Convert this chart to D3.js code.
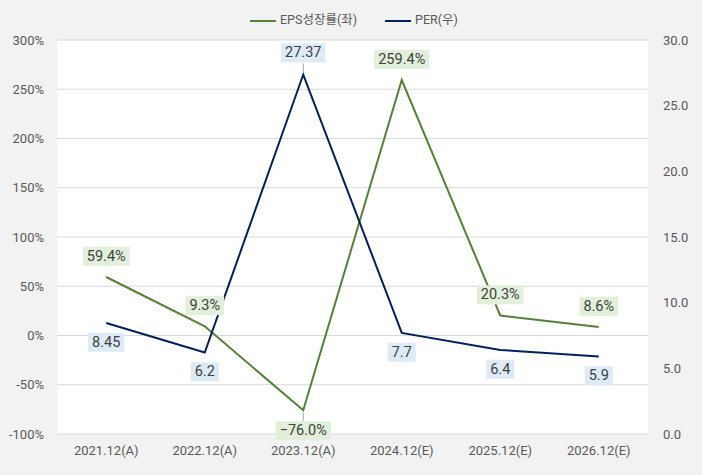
<html>
<head>
<meta charset="utf-8">
<script src="https://d3js.org/d3.v7.min.js"></script>
<style>
body{margin:0;background:#f2f2f2;}
text{font-family:Roboto,"Noto Sans CJK KR",sans-serif;}
</style>
</head>
<body>
<svg width=702 height=475></svg>
<script>
const categories=["2021.12(A)","2022.12(A)","2023.12(A)","2024.12(E)","2025.12(E)","2026.12(E)"]
const epsGrowth=[59.4,9.3,-76.0,259.4,20.3,8.6]
const per=[8.45,6.2,27.37,7.7,6.4,5.9]
const leftTicks=[-100,-50,0,50,100,150,200,250,300]
const rightTicks=[0,5,10,15,20,25,30]

const svg=d3.select("svg")
const margin={top:40, right:54, bottom:41, left:57}
const width=+svg.attr("width")-margin.left-margin.right
const height=+svg.attr("height")-margin.top-margin.bottom

const g=svg.append("g").attr("transform","translate("+margin.left+","+margin.top+")")
g.append("rect").attr("width",width).attr("height",height).attr("fill","#fff")

const xs=d3.scaleBand().domain(categories).range([0,width])
const yl=d3.scaleLinear().domain([-100,300]).range([height,0])
const yr=d3.scaleLinear().domain([0,30]).range([height,0])
const cx=d=>xs(d)+xs.bandwidth()/2

g.selectAll(".grid").data(leftTicks).enter().append("line")
.attr("x1",0).attr("x2",width).attr("y1",d=>yl(d)).attr("y2",d=>yl(d))
.attr("stroke","#d9d9d9").attr("stroke-width",1)

const leftAxis=g.append("g").call(d3.axisLeft(yl).tickValues(leftTicks).tickFormat(d=>d+"%").tickSize(0).tickPadding(13))
const rightAxis=g.append("g").attr("transform","translate("+width+",0)").call(d3.axisRight(yr).tickValues(rightTicks).tickFormat(d3.format(".1f")).tickSize(0).tickPadding(15))
const xAxis=g.append("g").attr("transform","translate(0,"+height+")").call(d3.axisBottom(xs).tickSize(0).tickPadding(12))
;[leftAxis,rightAxis,xAxis].forEach(a=>{
  a.select(".domain").remove()
  a.selectAll("text").attr("fill","#595959").style("font-size","13px")
})

const green="#548235", navy="#002060"
const line=(ys,vals)=>d3.line().x((d,i)=>cx(categories[i])).y((d)=>ys(d))(vals)

g.append("path").attr("d",line(yl,epsGrowth)).attr("fill","none").attr("stroke",green).attr("stroke-width",2)
g.append("path").attr("d",line(yr,per)).attr("fill","none").attr("stroke",navy).attr("stroke-width",2)

function label(x,y,txt,bg){
  const t=g.append("text").attr("x",x).attr("y",y).attr("text-anchor","middle").attr("dominant-baseline","middle")
  .attr("fill","#404040").style("font-size","14.5px").text(txt)
  const b=t.node().getBBox()
  g.insert("rect",()=>t.node()).attr("x",b.x-4).attr("y",b.y-1).attr("width",b.width+8).attr("height",b.height+2).attr("fill",bg)
}

// EPS labels above (the negative one goes below)
epsGrowth.forEach((v,i)=>{
  const x=cx(categories[i]), y=yl(v)
  const below=v<0
  const ly=below? y+21 : y-20
  if(below){
    g.append("line").attr("x1",x).attr("x2",x).attr("y1",y+2).attr("y2",ly-9).attr("stroke","#a6a6a6")
  }
  label(x,ly,d3.format(".1f")(v)+"%","#e2efda")
})
per.forEach((v,i)=>{
  const x=cx(categories[i]), y=yr(v)
  const top=v>20
  const ly=top? y-21 : y+20
  if(top){
    g.append("line").attr("x1",x).attr("x2",x).attr("y1",y-2).attr("y2",ly+10).attr("stroke","#a6a6a6")
  }
  label(x,ly,String(v),"#deebf7")
})

// legend
const legend=svg.append("g").attr("transform","translate(250,21)")
const items=[["EPS성장률(좌)",green,0],["PER(우)",navy,135]]
items.forEach(([name,c,off])=>{
  legend.append("line").attr("x1",off).attr("x2",off+26).attr("y1",0).attr("y2",0).attr("stroke",c).attr("stroke-width",2)
  legend.append("text").attr("x",off+30).attr("y",0).attr("dominant-baseline","middle").attr("fill","#595959").style("font-size","12.5px").text(name)
})
</script>
</body>
</html>
